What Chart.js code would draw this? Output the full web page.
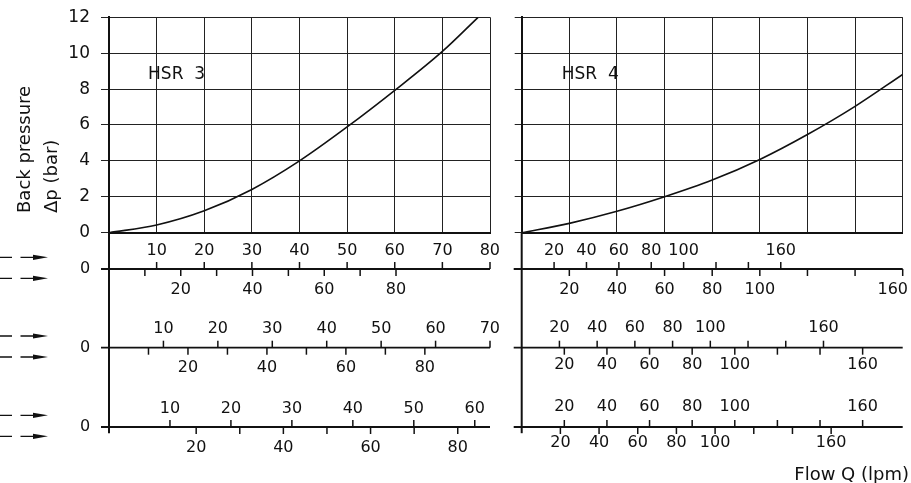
<!DOCTYPE html>
<html>
<head>
<meta charset="utf-8">
<script src="https://cdn.jsdelivr.net/npm/chart.js@4.4.0/dist/chart.umd.min.js"></script>
<style>
  html, body { margin: 0; padding: 0; background: #fff; }
  #wrap { position: relative; width: 911px; height: 483px; }
  canvas { position: absolute; top: 0; }
  #hsr3 { left: 0; }
  #hsr4 { left: 500px; }
</style>
</head>
<body>
<div id="wrap">
  <canvas id="hsr3" width="500" height="483"></canvas>
  <canvas id="hsr4" width="411" height="483"></canvas>
</div>
<script>
// back pressure curves
const hsr3Flow = [0, 10, 20, 30, 40, 50, 60, 70, 77.5];
const hsr3Pressure = [0, 0.43, 1.22, 2.41, 4.0, 5.89, 7.93, 10.1, 12];
const hsr4Flow = [0, 20, 40, 60, 80, 100, 120, 140, 160];
const hsr4Pressure = [0, 0.52, 1.19, 2.0, 2.93, 4.08, 5.47, 7.04, 8.82];

// extra flow scales under HSR 3 (tick values, labelled values)
const hsr3Row1Up = [10, 20, 30, 40, 50, 60, 70, 80];
const hsr3Row1Down = [10, 20, 30, 40, 50, 60, 70, 80];
const hsr3Row2Up = [10, 20, 30, 40, 50, 60, 70];
const hsr3Row2Down = [10, 20, 30, 40, 50, 60, 70, 80];
const hsr3Row3Up = [10, 20, 30, 40, 50, 60];
const hsr3Row3Down = [20, 30, 40, 50, 60, 70, 80];
const hsr3EvenLabels = [20, 40, 60, 80];

// extra flow scales under HSR 4
const hsr4Ticks = [20, 40, 60, 80, 100, 120, 140, 160];
const hsr4Labels = [20, 40, 60, 80, 100, 160];

const FONT = '"DejaVu Sans", sans-serif';
const INK = '#111';

function auxScalesPlugin(rows, edge, extra) {
  return {
    id: 'auxScales',
    afterDraw(chart) {
      const ctx = chart.ctx, area = chart.chartArea;
      ctx.save();
      ctx.strokeStyle = INK;
      ctx.fillStyle = INK;
      // main axis carried down through the flow scales
      ctx.lineWidth = 2;
      ctx.beginPath();
      ctx.moveTo(area.left, area.bottom);
      ctx.lineTo(area.left, area.bottom + 200.5);
      ctx.stroke();

      ctx.font = '16px ' + FONT;
      ctx.textAlign = 'center';
      ctx.textBaseline = 'middle';
      rows.forEach(row => {
        const y = area.bottom + row.dy;
        ctx.lineWidth = 1.8;
        ctx.beginPath();
        ctx.moveTo(area.left - 8, y);
        ctx.lineTo(area.right, y);
        ctx.stroke();
        [[row.up, -1], [row.down, 1]].forEach(([side, dir]) => {
          const scale = chart.scales[side.id];
          ctx.lineWidth = 1.5;
          side.ticks.forEach(v => {
            const x = scale.getPixelForValue(v);
            ctx.beginPath();
            ctx.moveTo(x, y);
            ctx.lineTo(x, y + dir * 7);
            ctx.stroke();
          });
          side.labels.forEach(v => {
            const txt = String(v);
            const half = ctx.measureText(txt).width / 2;
            // keep end labels inside the drawing
            const x = Math.min(scale.getPixelForValue(v), chart.width - edge - half);
            ctx.fillText(txt, x, y + dir * side.off);
          });
        });
      });
      if (extra) extra(chart, ctx, area, rows);
      ctx.restore();
    }
  };
}

function drawArrow(ctx, y) {
  ctx.lineWidth = 1.3;
  ctx.beginPath();
  ctx.moveTo(0, y); ctx.lineTo(12, y);
  ctx.moveTo(20.5, y); ctx.lineTo(34, y);
  ctx.stroke();
  ctx.beginPath();
  ctx.moveTo(33, y - 2.6); ctx.lineTo(48, y); ctx.lineTo(33, y + 2.6);
  ctx.closePath();
  ctx.fill();
}

function hidden(max) {
  return { type: 'linear', axis: 'x', position: 'bottom', display: false, min: 0, max: max };
}

function baseOptions(xMax, padding, showLabels) {
  return {
    responsive: false,
    animation: false,
    layout: { padding: padding },
    plugins: { legend: { display: false }, tooltip: { enabled: false } },
    scales: {
      x: {
        type: 'linear', min: 0, max: xMax,
        ticks: { stepSize: xMax / 8, display: false },
        grid: { color: '#222', lineWidth: 1, drawTicks: false },
        border: { color: INK, width: 2 }
      },
      y: {
        type: 'linear', min: 0, max: 12,
        ticks: {
          stepSize: 2, padding: 11,
          color: showLabels ? INK : 'rgba(0,0,0,0)',
          font: { family: FONT, size: 17, lineHeight: 0.5 }
        },
        grid: { color: '#222', lineWidth: 1, tickLength: showLabels ? 8 : 7 },
        border: { color: INK, width: 2 },
        afterFit: s => { s.width = showLabels ? 109 : 21.7; }
      }
    }
  };
}

// ---- HSR 3 ----
const leftRows = [
  { dy: 36.3, up: { id: 'a1', ticks: hsr3Row1Up, labels: hsr3Row1Up, off: 18 },
              down: { id: 'b1', ticks: hsr3Row1Down, labels: hsr3EvenLabels, off: 21 } },
  { dy: 115, up: { id: 'a2', ticks: hsr3Row2Up, labels: hsr3Row2Up, off: 18.7 },
             down: { id: 'b2', ticks: hsr3Row2Down, labels: hsr3EvenLabels, off: 20.6 } },
  { dy: 194.3, up: { id: 'a3', ticks: hsr3Row3Up, labels: hsr3Row3Up, off: 18 },
               down: { id: 'b3', ticks: hsr3Row3Down, labels: hsr3EvenLabels, off: 20.5 } }
];

const leftOpts = baseOptions(80, { left: 0, right: 10, top: 17.3, bottom: 250.3 }, true);
Object.assign(leftOpts.scales, {
  a1: hidden(80), b1: hidden(106.2),
  a2: hidden(70), b2: hidden(96.5),
  a3: hidden(62.5), b3: hidden(87.4)
});

new Chart(document.getElementById('hsr3'), {
  type: 'line',
  data: {
    datasets: [{
      data: hsr3Flow.map((x, i) => ({ x: x, y: hsr3Pressure[i] })),
      borderColor: INK, borderWidth: 1.6, pointRadius: 0,
      cubicInterpolationMode: 'monotone', fill: false
    }]
  },
  options: leftOpts,
  plugins: [auxScalesPlugin(leftRows, 0, (chart, ctx, area, rows) => {
    rows.forEach(row => {
      const y = area.bottom + row.dy;
      drawArrow(ctx, y - 11.7);
      drawArrow(ctx, y + 9.3);
      ctx.font = '16px ' + FONT;
      ctx.textAlign = 'center';
      ctx.fillText('0', 85, y);
    });
    ctx.font = '17px ' + FONT;
    ctx.textAlign = 'left';
    ctx.fillText('HSR  3', chart.scales.x.getPixelForValue(8.2), chart.scales.y.getPixelForValue(8.8));
    ctx.save();
    ctx.font = '18px ' + FONT;
    ctx.translate(0, 213);
    ctx.rotate(-Math.PI / 2);
    ctx.textAlign = 'left';
    ctx.fillText('Back pressure', 0, 25);
    ctx.fillText('Δp (bar)', 0, 52);
    ctx.restore();
  })]
});

// ---- HSR 4 ----
const rightRows = [
  { dy: 36.3, up: { id: 'a1', ticks: hsr4Ticks, labels: hsr4Labels, off: 18 },
              down: { id: 'b1', ticks: hsr4Ticks, labels: hsr4Labels, off: 21 } },
  { dy: 115, up: { id: 'a2', ticks: hsr4Ticks, labels: hsr4Labels, off: 19.4 },
             down: { id: 'b2', ticks: hsr4Ticks, labels: hsr4Labels, off: 16.8 } },
  { dy: 194.3, up: { id: 'a3', ticks: hsr4Ticks, labels: hsr4Labels, off: 20.3 },
               down: { id: 'b3', ticks: hsr4Ticks, labels: hsr4Labels, off: 16.3 } }
];

const rightOpts = baseOptions(160, { left: 0, right: 8.3, top: 17.3, bottom: 250.3 }, false);
Object.assign(rightOpts.scales, {
  a1: hidden(235.3), b1: hidden(160),
  a2: hidden(202), b2: hidden(178.8),
  a3: hidden(178.8), b3: hidden(197)
});

new Chart(document.getElementById('hsr4'), {
  type: 'line',
  data: {
    datasets: [{
      data: hsr4Flow.map((x, i) => ({ x: x, y: hsr4Pressure[i] })),
      borderColor: INK, borderWidth: 1.6, pointRadius: 0,
      cubicInterpolationMode: 'monotone', fill: false
    }]
  },
  options: rightOpts,
  plugins: [auxScalesPlugin(rightRows, 3, (chart, ctx, area) => {
    ctx.font = '17px ' + FONT;
    ctx.textAlign = 'left';
    ctx.fillText('HSR  4', chart.scales.x.getPixelForValue(16.8), chart.scales.y.getPixelForValue(8.8));
    ctx.font = '18px ' + FONT;
    ctx.textAlign = 'right';
    ctx.textBaseline = 'alphabetic';
    ctx.fillText('Flow Q (lpm)', 409, 480);
  })]
});
</script>
</body>
</html>
